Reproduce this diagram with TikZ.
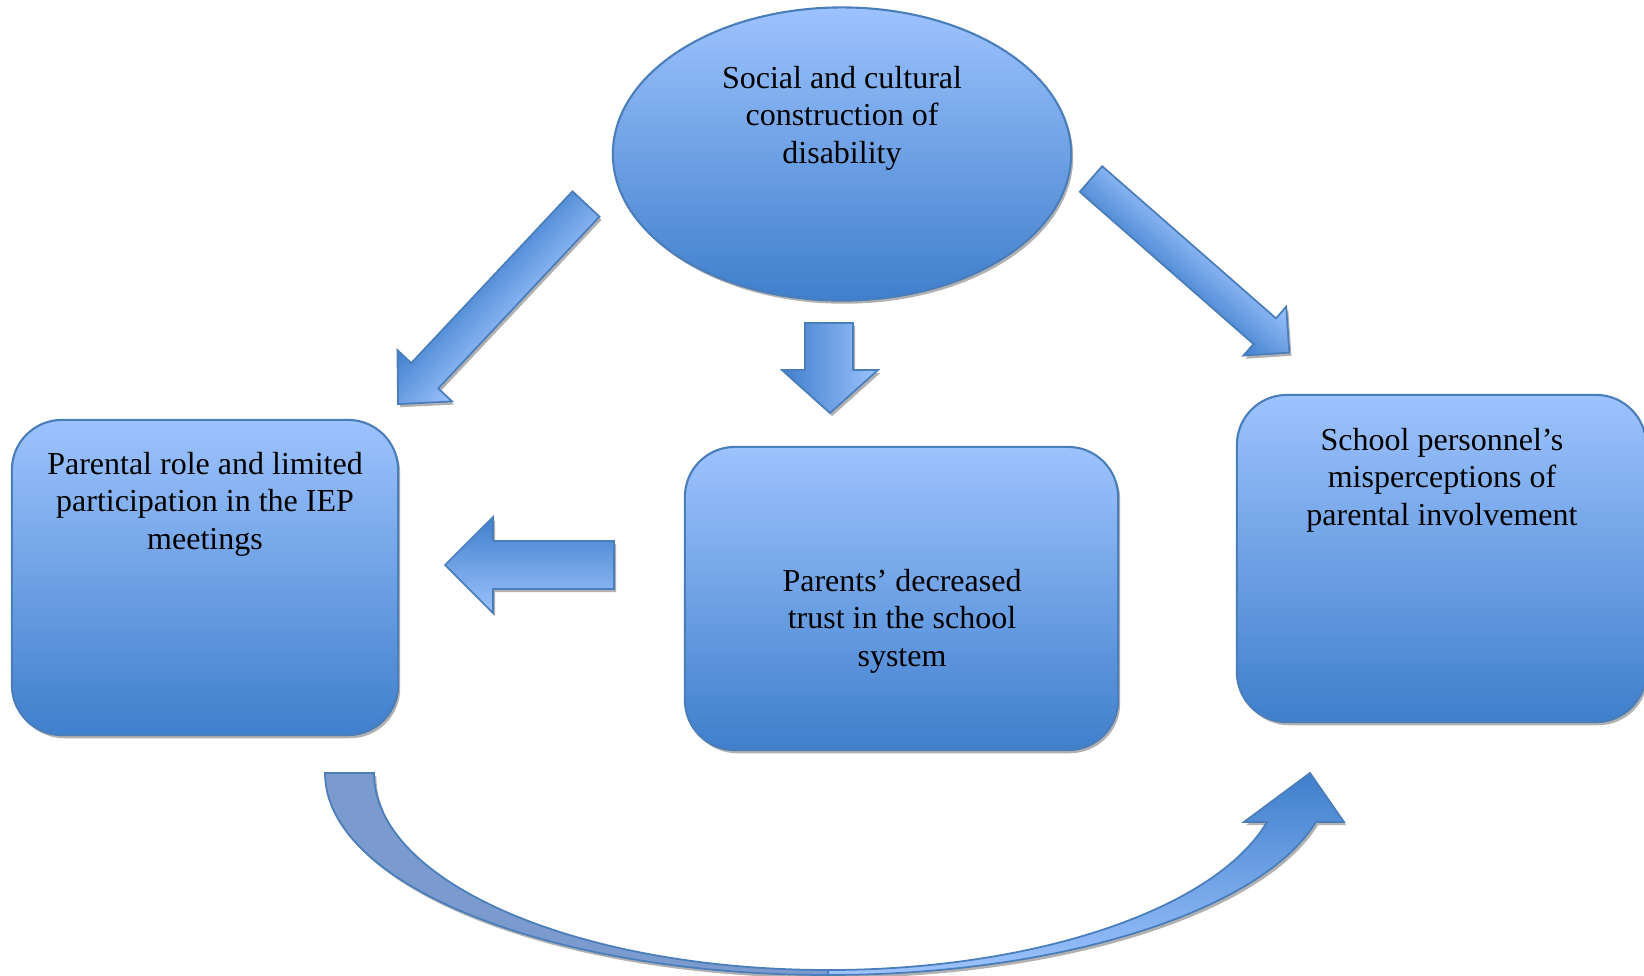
\documentclass[tikz,border=0pt]{standalone}
\usepackage{fontspec}
\setmainfont{Liberation Serif}
\usetikzlibrary{shapes.geometric,shadows}
\definecolor{lightb}{HTML}{9DC3FD}
\definecolor{darkb}{HTML}{3F7FCC}
\definecolor{edgeb}{HTML}{4A7EBB}
\definecolor{backb}{HTML}{7B9BCE}
\definecolor{shadc}{HTML}{A3A3A3}
\tikzset{
  sh/.style={drop shadow={shadow xshift=0.6pt, shadow yshift=-0.9pt, fill=shadc, opacity=0.85}},
  box/.style={draw=edgeb, line width=0.6pt, rounded corners=0.5cm, top color=lightb, bottom color=darkb, sh, inner sep=0},
  ell/.style={ellipse, draw=edgeb, line width=0.6pt, top color=lightb, bottom color=darkb, sh, inner sep=0},
  lbl/.style={align=center, font=\fontsize{9.1}{10.7}\selectfont, inner sep=0},
  blk/.style={draw=edgeb, line width=0.5pt, line join=miter},
  shd/.style={fill=shadc, opacity=0.85},
}
\begin{document}
\begin{tikzpicture}[x=0.01cm, y=-0.01cm]
\useasboundingbox (0,0) rectangle (1644,976);

% curved arrow (bottom)
\fill[shd, shift={(0.6pt,-0.9pt)}] (325,773) arc[start angle=180, end angle=90, x radius=503, y radius=202]
  arc[start angle=90, end angle=14, x radius=503, y radius=202]
  -- (1344,822) -- (1310,773) -- (1244,822) -- (1267,822)
  arc[start angle=14.4, end angle=90, x radius=453, y radius=197]
  arc[start angle=90, end angle=180, x radius=454, y radius=197] -- cycle;
\path[blk, fill=backb] (325,773) arc[start angle=180, end angle=90, x radius=503, y radius=202]
  -- (828,970) arc[start angle=90, end angle=180, x radius=454, y radius=197] -- cycle;
\path[blk, top color=darkb, bottom color=lightb] (828,975) arc[start angle=90, end angle=14, x radius=503, y radius=202]
  -- (1344,822) -- (1310,773) -- (1244,822) -- (1267,822)
  arc[start angle=14.4, end angle=90, x radius=453, y radius=197] -- cycle;

% boxes and ellipse
\node[box, minimum width=3.86cm, minimum height=3.15cm] (parent) at (205,577.5) {};
\node[box, minimum width=4.33cm, minimum height=3.03cm] (trust) at (901.5,598.5) {};
\node[box, minimum width=4.09cm, minimum height=3.27cm] (school) at (1441.5,558.5) {};
\node[ell, minimum width=4.58cm, minimum height=2.93cm] (social) at (842,154) {};

\node[lbl] (socialtxt) at (842,118) {Social and cultural\\construction of\\disability};
\node[lbl] (parenttxt) at (205,504) {Parental role and limited\\participation in the IEP\\meetings};
\node[lbl] (trusttxt) at (902,621) {Parents’ decreased\\trust in the school\\system};
\node[lbl] (schooltxt) at (1442,480) {School personnel’s\\misperceptions of\\parental involvement};

% down arrow
\fill[shd, shift={(0.6pt,-0.9pt)}] (805,323) -- (853,323) -- (853,370) -- (878,370) -- (830,413) -- (782,370) -- (805,370) -- cycle;
\path[blk, left color=darkb, right color=lightb] (805,323) -- (853,323) -- (853,370) -- (878,370) -- (830,413) -- (782,370) -- (805,370) -- cycle;

% left arrow
\fill[shd, shift={(0.6pt,-0.9pt)}] (614,541) -- (493,541) -- (493,517) -- (445,565) -- (493,613) -- (493,589) -- (614,589) -- cycle;
\path[blk, top color=darkb, bottom color=lightb] (614,541) -- (493,541) -- (493,517) -- (445,565) -- (493,613) -- (493,589) -- (614,589) -- cycle;

% diagonal arrow to the left
\begin{scope}[transform canvas={shift={(586,204)}}]
\begin{scope}[transform canvas={rotate=-133.2}, x=0.01cm, y=0.01cm]
\fill[shd, shift={(0.25pt,1.05pt)}] (0,-18.5) -- (235.6,-18.5) -- (235.6,-37.5) -- (274.5,0) -- (235.6,37.5) -- (235.6,18.5) -- (0,18.5) -- cycle;
\path[blk, top color=lightb, bottom color=darkb] (0,-18.5) -- (235.6,-18.5) -- (235.6,-37.5) -- (274.5,0) -- (235.6,37.5) -- (235.6,18.5) -- (0,18.5) -- cycle;
\end{scope}
\end{scope}

% diagonal arrow to the right
\begin{scope}[transform canvas={shift={(1091,179)}}]
\begin{scope}[transform canvas={rotate=-41.2}, x=0.01cm, y=0.01cm]
\fill[shd, shift={(1.04pt,-0.28pt)}] (0,-17) -- (231,-17) -- (231,-32.5) -- (263.6,0) -- (231,32.5) -- (231,17) -- (0,17) -- cycle;
\path[blk, top color=lightb, bottom color=darkb] (0,-17) -- (231,-17) -- (231,-32.5) -- (263.6,0) -- (231,32.5) -- (231,17) -- (0,17) -- cycle;
\end{scope}
\end{scope}
\end{tikzpicture}
\end{document}
